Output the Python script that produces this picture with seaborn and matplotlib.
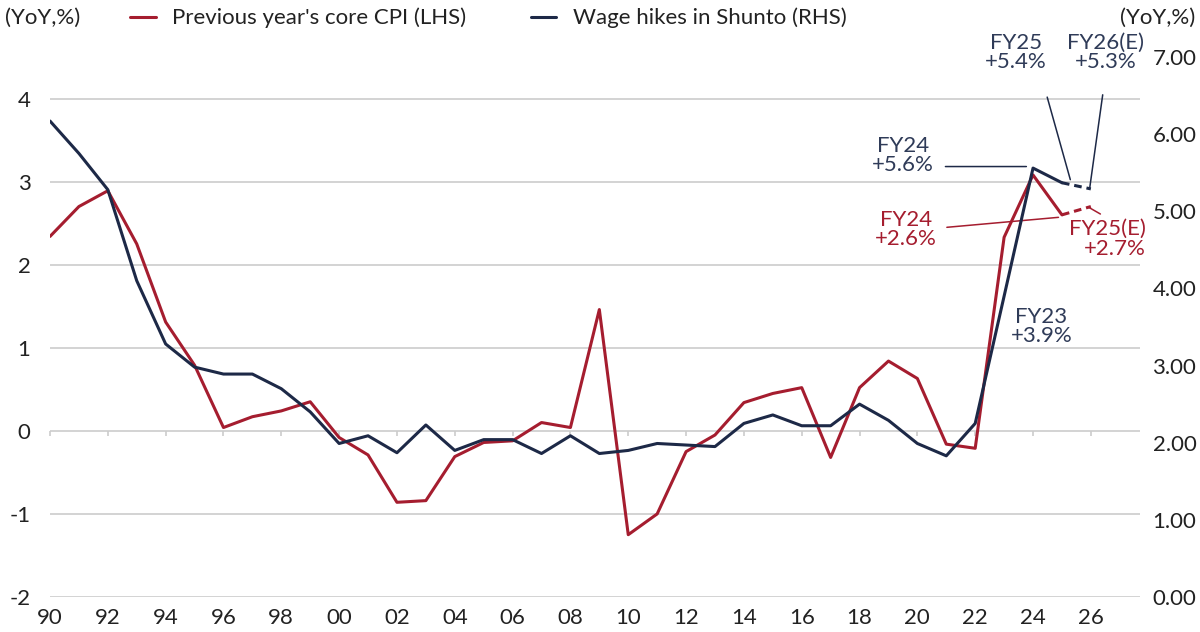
import numpy as np
import pandas as pd
import matplotlib
matplotlib.use('Agg')
import matplotlib.pyplot as plt
import seaborn as sns

years = list(range(1990, 2027))

# previous year's core CPI, LHS (%, YoY); last point is the estimate
core_cpi = [2.34, 2.70, 2.89, 2.25, 1.31, 0.79, 0.04, 0.17, 0.24, 0.35,
            -0.08, -0.29, -0.86, -0.84, -0.31, -0.14, -0.12, 0.10, 0.04, 1.46,
            -1.25, -1.00, -0.25, -0.05, 0.34, 0.45, 0.52, -0.32, 0.52, 0.84,
            0.63, -0.16, -0.21, 2.33, 3.08, 2.60, 2.70]

# wage hikes in Shunto, RHS (%, YoY); last point is the estimate
shunto = [6.17, 5.75, 5.28, 4.10, 3.28, 2.98, 2.89, 2.89, 2.70, 2.40,
          1.99, 2.09, 1.87, 2.23, 1.90, 2.04, 2.04, 1.86, 2.09, 1.86,
          1.90, 1.99, 1.97, 1.95, 2.25, 2.36, 2.22, 2.22, 2.50, 2.29,
          1.99, 1.83, 2.25, 3.90, 5.56, 5.37, 5.29]

last_actual = 2025

left_ticks = [-2, -1, 0, 1, 2, 3, 4]
right_ticks = [0, 1, 2, 3, 4, 5, 6, 7]
x_ticks = list(range(1990, 2027, 2))
x_labels = ['%02d' % (y % 100) for y in x_ticks]

RED = '#a51d2f'
NAVY = '#1d2947'
NAVY_TXT = '#2f3b58'
GRID = '#cccccc'
TXT = '#222222'

df = pd.DataFrame({'year': years, 'cpi': core_cpi, 'shunto': shunto})
actual = df[df['year'] <= last_actual]
est = df[df['year'] >= last_actual]

sns.set_style('white')
plt.rcParams['font.family'] = ['Lato', 'DejaVu Sans']
FS = 16

fig = plt.figure(figsize=(12, 6.32), dpi=100)
ax = fig.add_axes([50 / 1200, 1 - 597 / 632, 1090 / 1200, 540 / 632])
ax2 = ax.twinx()

sns.lineplot(data=actual, x='year', y='cpi', ax=ax, color=RED, lw=2.2,
             label="Previous year's core CPI (LHS)", legend=False)
sns.lineplot(data=est, x='year', y='cpi', ax=ax, color=RED, lw=2.2,
             linestyle=(0, (2.5, 1.6)), legend=False)
sns.lineplot(data=actual, x='year', y='shunto', ax=ax2, color=NAVY, lw=2.2,
             label='Wage hikes in Shunto (RHS)', legend=False)
sns.lineplot(data=est, x='year', y='shunto', ax=ax2, color=NAVY, lw=2.2,
             linestyle=(0, (2.5, 1.6)), legend=False)

ax.set_xlim(1990, 2027.7)
ax.set_ylim(-2, 4.5)
ax2.set_ylim(0, 7)
ax.set_yticks(left_ticks)
ax.set_yticklabels([str(t) for t in left_ticks])
ax2.set_yticks(right_ticks)
ax2.set_yticklabels(['%.2f' % t for t in right_ticks])
ax.set_xticks(x_ticks)
ax.set_xticklabels(x_labels)
ax.set_xlabel('')
ax.set_ylabel('')
ax2.set_ylabel('')

ax.grid(axis='y', color=GRID, lw=1.2)
ax.grid(axis='x', visible=False)
ax2.grid(False)
for a in (ax, ax2):
    for s in a.spines.values():
        s.set_visible(False)

ax.tick_params(axis='y', length=0, pad=14, labelsize=FS, labelcolor=TXT)
ax2.tick_params(axis='y', length=0, pad=9, labelsize=FS, labelcolor=TXT)
ax.tick_params(axis='x', length=0, pad=8, labelsize=FS, labelcolor=TXT)

# small tick marks on the zero line
zero_pos = (0 - (-2)) / 6.5
sec = ax.secondary_xaxis(zero_pos)
sec.set_xticks(x_ticks)
sec.tick_params(axis='x', direction='out', length=3.5, width=1.2, color=GRID,
                labelbottom=False, labeltop=False, bottom=True, top=False)
for s in sec.spines.values():
    s.set_visible(False)

# annotations
lead = dict(arrowstyle='-', lw=1.1, shrinkA=0, shrinkB=0)
ax2.text(2019.5, 5.72, 'FY24\n+5.6%', color=NAVY_TXT, fontsize=FS,
         ha='center', va='center', linespacing=0.95)
ax2.annotate('', xy=(2023.77, 5.58), xytext=(2020.97, 5.58),
             arrowprops=dict(color=NAVY, **lead))
ax2.text(2023.4, 7.06, 'FY25\n+5.4%', color=NAVY_TXT, fontsize=FS,
         ha='center', va='center', linespacing=0.95, clip_on=False)
ax2.annotate('', xy=(2025.29, 5.41), xytext=(2024.49, 6.48),
             arrowprops=dict(color=NAVY, **lead))
ax2.text(2026.5, 7.06, 'FY26(E)\n+5.3%', color=NAVY_TXT, fontsize=FS,
         ha='center', va='center', linespacing=0.95, clip_on=False)
ax2.annotate('', xy=(2025.96, 5.30), xytext=(2026.41, 6.51),
             arrowprops=dict(color=NAVY, **lead))
ax2.text(2024.29, 3.51, 'FY23\n+3.9%', color=NAVY_TXT, fontsize=FS,
         ha='center', va='center', linespacing=0.95)

ax.text(2019.6, 2.42, 'FY24\n+2.6%', color=RED, fontsize=FS,
        ha='center', va='center', linespacing=0.95)
ax.annotate('', xy=(2024.88, 2.57), xytext=(2021.02, 2.45),
            arrowprops=dict(color=RED, **lead))
ax.text(2027.9, 2.31, 'FY25(E)\n+2.7%', color=RED, fontsize=FS,
        ha='right', va='center', ma='right', linespacing=0.95, clip_on=False)
ax.annotate('', xy=(2025.93, 2.69), xytext=(2026.33, 2.61),
            arrowprops=dict(color=RED, **lead))

# header: units and legend
fig.text(5 / 1200, 1 - 18 / 632, '(YoY,%)', fontsize=FS, color=TXT,
         ha='left', va='center')
fig.text(1195 / 1200, 1 - 18 / 632, '(YoY,%)', fontsize=FS, color=TXT,
         ha='right', va='center')
h1, l1 = ax.get_legend_handles_labels()
h2, l2 = ax2.get_legend_handles_labels()
fig.legend(h1 + h2, l1 + l2, loc='center left',
           bbox_to_anchor=(130 / 1200, 1 - 18 / 632), ncol=2, frameon=False,
           fontsize=FS, handlelength=1.15, handletextpad=0.75,
           columnspacing=2.9, labelcolor=TXT, borderaxespad=0, borderpad=0)

fig.savefig('out.png', dpi=100)
